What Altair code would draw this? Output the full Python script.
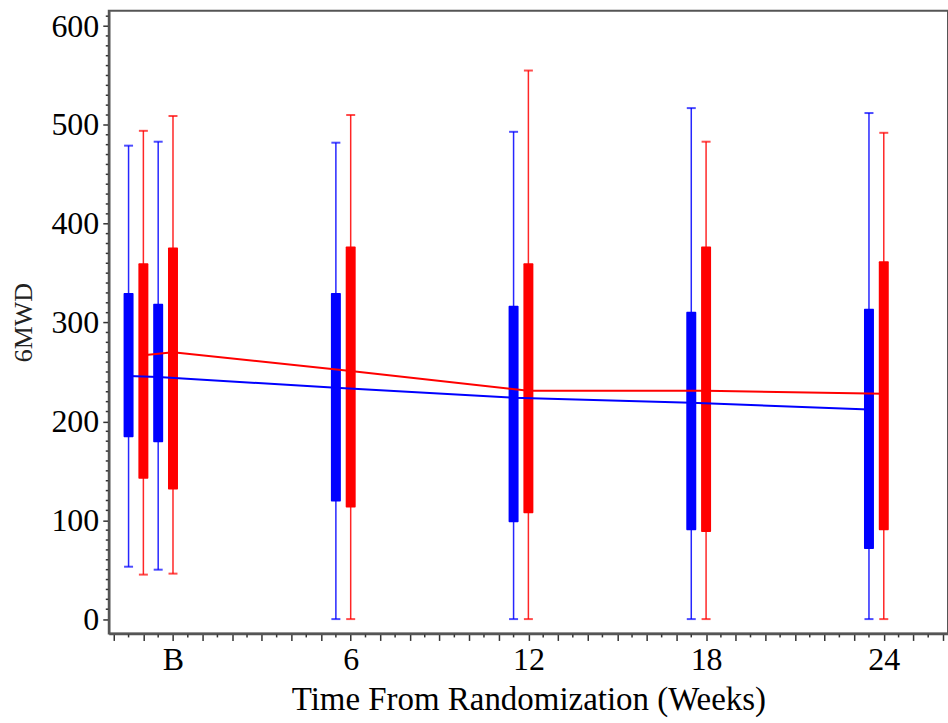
import altair as alt
import pandas as pd

groups = ["Group A", "Group B"]
group_colors = ["#0000ff", "#ff0000"]

# Group A (blue)
blue_weeks = [-1.5, -0.5, 5.5, 11.5, 17.5, 23.5]
blue_min = [53, 50, 0, 0, 0, 0]
blue_q1 = [184, 179, 119, 98, 90, 71]
blue_q3 = [330, 319, 330, 317, 311, 314]
blue_max = [479, 483, 482, 493, 517, 512]
blue_mean = [246, 245, 234, 224, 219, 212]

# Group B (red)
red_weeks = [-1.0, 0.0, 6.0, 12.0, 18.0, 24.0]
red_min = [45, 46, 0, 0, 0, 0]
red_q1 = [142, 131, 113, 107, 88, 90]
red_q3 = [360, 376, 377, 360, 377, 362]
red_max = [494, 509, 510, 555, 483, 492]
red_mean = [267, 270, 251, 231, 231, 228]

x_label_values = [0, 6, 12, 18, 24]
x_label_text = ["B", "6", "12", "18", "24"]
x_major_ticks = list(range(-2, 27))
x_minor_ticks = [v + 0.5 for v in range(-2, 26)]
y_label_values = [0, 100, 200, 300, 400, 500, 600]
y_minor_ticks = [v for v in range(0, 611, 10) if v % 100 != 0]

rows = []
for g, wk, mn, q1, q3, mx, me in [
    (groups[0], blue_weeks, blue_min, blue_q1, blue_q3, blue_max, blue_mean),
    (groups[1], red_weeks, red_min, red_q1, red_q3, red_max, red_mean),
]:
    for i in range(len(wk)):
        rows.append({"group": g, "week": wk[i], "lo": mn[i], "q1": q1[i],
                     "q3": q3[i], "hi": mx[i], "mean": me[i]})
df = pd.DataFrame(rows)

expr = "''"
for v, t in reversed(list(zip(x_label_values, x_label_text))):
    expr = f"datum.value == {v} ? '{t}' : ({expr})"

W, H = 841, 624
xs = alt.Scale(domain=[-2, 26], nice=False, zero=False)
ys = alt.Scale(domain=[-14.5, 615.5], nice=False, zero=False)

xaxis = alt.Axis(
    values=x_major_ticks, labelExpr=expr, labelOverlap=False,
    title="Time From Randomization (Weeks)", titleFontSize=33,
    tickSize=7, labelPadding=4, titlePadding=8, labelFlush=False,
)
yaxis = alt.Axis(
    values=y_label_values, labelOverlap=False,
    title="6MWD", titleFontSize=26, titleColor="#222",
    tickSize=6, labelPadding=4, titlePadding=14, labelFlush=False,
)

color = alt.Color("group:N", scale=alt.Scale(domain=groups, range=group_colors), legend=None)
base = alt.Chart(df)
X = alt.X("week:Q", scale=xs, axis=xaxis)


def Y(f):
    return alt.Y(f, scale=ys, axis=yaxis)


whisk = base.mark_rule(strokeWidth=1.5, opacity=0.85).encode(
    x=X, y=Y("lo:Q"), y2="hi:Q", color=color)
cap_hi = base.mark_tick(orient="horizontal", size=9, thickness=2).encode(
    x=X, y=Y("hi:Q"), color=color)
cap_lo = base.mark_tick(orient="horizontal", size=9, thickness=2).encode(
    x=X, y=Y("lo:Q"), color=color)
box = base.mark_bar(size=10, cornerRadius=1).encode(
    x=X, y=Y("q1:Q"), y2="q3:Q", color=color)
line = base.mark_line(strokeWidth=2).encode(
    x=X, y=Y("mean:Q"), color=color, order="week:Q")

ymin = alt.Chart(pd.DataFrame({"v": y_minor_ticks})).mark_rule(
    color="#333", strokeWidth=1.5).encode(
    y=Y("v:Q"), x=alt.value(-3), x2=alt.value(-0.5))
xmin = alt.Chart(pd.DataFrame({"week": x_minor_ticks})).mark_rule(
    color="#333", strokeWidth=1.5).encode(
    x=X, y=alt.value(H + 1), y2=alt.value(H + 4))

chart = alt.layer(whisk, cap_hi, cap_lo, box, line, ymin, xmin).properties(
    width=W, height=H,
    autosize=alt.AutoSizeParams(type="none"),
    padding={"left": 109, "top": 10, "right": 0, "bottom": 89},
    background="white",
).configure_view(
    stroke="#555", strokeWidth=2
).configure_axis(
    labelFont="Liberation Serif", titleFont="Liberation Serif",
    labelFontSize=32, titleFontWeight="normal",
    labelColor="black", titleColor="black",
    domainColor="#555", domainWidth=2.5,
    tickColor="#333", tickWidth=1.5, grid=False,
)

chart.save("out.html", embed_options={"renderer": "svg", "actions": False})
